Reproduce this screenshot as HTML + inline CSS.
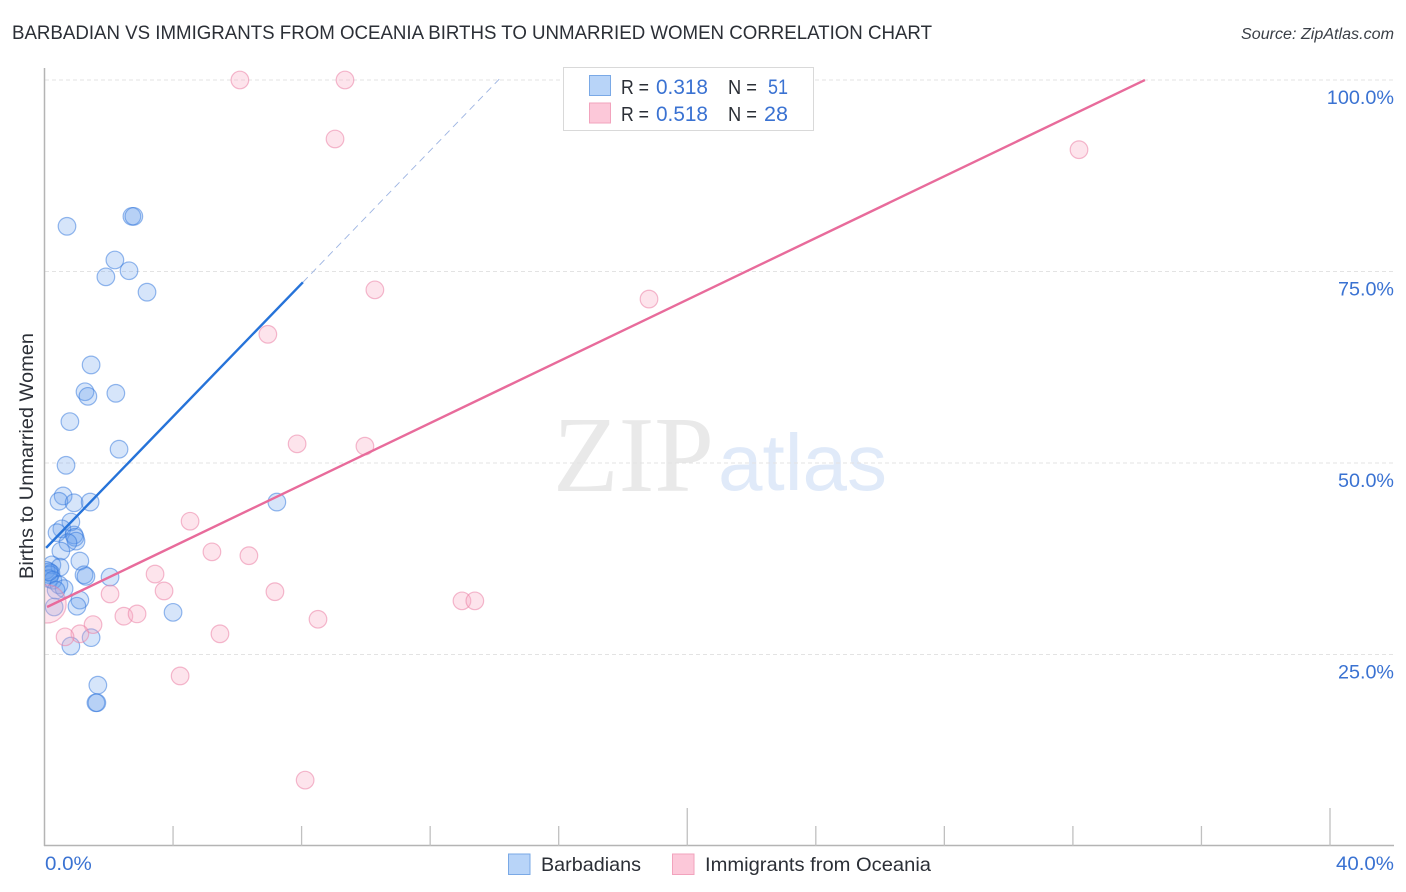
<!DOCTYPE html>
<html lang="en">
<head>
<meta charset="utf-8">
<title>Barbadian vs Immigrants from Oceania Births to Unmarried Women Correlation Chart</title>
<style>
html,body{margin:0;padding:0;background:#fff;width:1406px;height:892px;overflow:hidden}
svg{display:block;font-family:"Liberation Sans",sans-serif}
</style>
</head>
<body>
<svg id="chart" width="1406" height="892" viewBox="0 0 1406 892">
  <defs>
    <clipPath id="plot-clip"><rect x="45" y="60" width="1349" height="786"/></clipPath>
  </defs>
  <text x="12" y="39" font-size="19.4" fill="#2b2f36" textLength="920" lengthAdjust="spacingAndGlyphs">BARBADIAN VS IMMIGRANTS FROM OCEANIA BIRTHS TO UNMARRIED WOMEN CORRELATION CHART</text>
  <text x="1241" y="39" font-size="15.5" font-style="italic" fill="#3a3f47" textLength="153" lengthAdjust="spacingAndGlyphs">Source: ZipAtlas.com</text>
  <g>
    <text x="553" y="491" font-family="'Liberation Serif',serif" font-size="108" fill="#e9e9e9" textLength="161" lengthAdjust="spacingAndGlyphs">ZIP</text>
    <text x="718" y="490" font-size="80" fill="#e0eaf9" textLength="169" lengthAdjust="spacingAndGlyphs">atlas</text>
  </g>
  <g id="grid"></g>
  <g id="axes"></g>
  <g id="marks-blue" clip-path="url(#plot-clip)"></g>
  <g id="marks-pink" clip-path="url(#plot-clip)"></g>
  <g id="fit-lines" clip-path="url(#plot-clip)"></g>
  <text x="33" y="456" font-size="19" fill="#2b2f36" text-anchor="middle" transform="rotate(-90 33 456)" textLength="246" lengthAdjust="spacingAndGlyphs">Births to Unmarried Women</text>

  <g>
    <rect x="563.5" y="67.5" width="250" height="63" fill="#fff" stroke="#d9d9d9"/>
    <rect x="589.5" y="75.5" width="21" height="20" fill="#b8d4f8" stroke="#7aa9e6"/>
    <rect x="589.5" y="103" width="21" height="20" fill="#fcc8d9" stroke="#f2a3bd"/>
    <g font-size="20" fill="#2b2f36">
      <text x="621" y="94" textLength="28" lengthAdjust="spacingAndGlyphs">R =</text>
      <text x="728" y="94" textLength="29" lengthAdjust="spacingAndGlyphs">N =</text>
      <text x="621" y="121" textLength="28" lengthAdjust="spacingAndGlyphs">R =</text>
      <text x="728" y="121" textLength="29" lengthAdjust="spacingAndGlyphs">N =</text>
    </g>
    <g font-size="21" fill="#3a72d2">
      <text x="656" y="94" textLength="52" lengthAdjust="spacingAndGlyphs">0.318</text>
      <text x="768" y="94" textLength="20" lengthAdjust="spacingAndGlyphs">51</text>
      <text x="656" y="121" textLength="52" lengthAdjust="spacingAndGlyphs">0.518</text>
      <text x="764" y="121" textLength="24" lengthAdjust="spacingAndGlyphs">28</text>
    </g>
  </g>

  <g>
    <g>
      <rect x="508.5" y="854" width="21.5" height="20.5" fill="#b8d4f8" stroke="#7aa9e6"/>
      <text x="541" y="871" font-size="19.5" fill="#2b2f36" textLength="100" lengthAdjust="spacingAndGlyphs">Barbadians</text>
    </g>
    <g>
      <rect x="672.5" y="854" width="21.5" height="20.5" fill="#fcc8d9" stroke="#f2a3bd"/>
      <text x="705" y="871" font-size="19.5" fill="#2b2f36" textLength="226" lengthAdjust="spacingAndGlyphs">Immigrants from Oceania</text>
    </g>
  </g>
</svg>
<script>
// Categories and tick labels
const yTicks = [25, 50, 75, 100];
const yTickLabels = ["25.0%", "50.0%", "75.0%", "100.0%"];
const xTicks = [0, 4, 8, 12, 16, 20, 24, 28, 32, 36, 40];
const xMajorTicks = [20, 40];
const xEndTicks = [0, 40];
const xEndLabels = ["0.0%", "40.0%"];

// Barbadians: x value (%) and births to unmarried women (y, %)
const blueX = [0.70,2.72,2.78,2.19,2.63,1.91,3.19,1.45,1.26,1.35,2.22,0.79,2.32,0.67,0.58,0.45,0.92,1.42,7.23,0.82,0.54,0.39,0.92,0.95,0.98,0.73,0.51,1.10,0.23,0.48,0.05,0.20,0.17,1.23,1.29,2.04,0.14,0.26,0.45,0.61,0.36,1.10,1.01,0.30,4.00,1.45,0.82,1.66,1.60,1.63,0.14];
const blueY = [80.9,82.2,82.2,76.5,75.1,74.3,72.3,62.8,59.3,58.7,59.1,55.4,51.8,49.7,45.7,45.0,44.8,44.9,44.9,42.3,41.4,40.9,40.6,40.3,39.8,39.6,38.5,37.2,36.7,36.4,36.0,35.6,35.4,35.4,35.2,35.1,34.9,34.7,34.1,33.6,33.4,32.1,31.3,31.2,30.5,27.2,26.1,21.0,18.7,18.7,35.8];

// Immigrants from Oceania
const pinkX = [6.08,9.35,9.04,32.19,10.28,18.81,6.95,7.86,9.97,4.53,5.21,6.36,3.44,3.72,7.17,2.04,12.99,13.39,2.47,2.88,8.51,1.51,1.10,5.46,0.64,4.22,8.11,0.08];
const pinkY = [100,100,92.3,90.9,72.6,71.4,66.8,52.5,52.2,42.4,38.4,37.9,35.5,33.3,33.2,32.9,32.0,32.0,30.0,30.3,29.6,28.9,27.7,27.7,27.3,22.2,8.6,31.6];
const pinkWeight = [1,1,1,1,1,1,1,1,1,1,1,1,1,1,1,1,1,1,1,1,1,1,1,1,1,1,1,4.7];

// Trend lines: slope, intercept, x-range of the solid segment, x-end of extrapolation
const blueFit = [4.34, 38.7];
const blueSolidRange = [0.05, 8.04];
const blueDashEnd = 14.15;
const pinkFit = [2.014, 31.04];
const pinkSolidRange = [0.08, 34.24];

const NS = "http://www.w3.org/2000/svg";
const xPos = v => 44.5 + v * (1330 - 44.5) / 40;
const yPos = v => 846 - v * (846 - 80) / 100;
const blueTrend = x => blueFit[0] * x + blueFit[1];
const pinkTrend = x => pinkFit[0] * x + pinkFit[1];
const percentLabelWidth = s => s.length * 11.2;

function mk(parent, tag, attrs) {
  const el = document.createElementNS(NS, tag);
  for (const k in attrs) el.setAttribute(k, attrs[k]);
  parent.appendChild(el);
  return el;
}

const grid = document.getElementById("grid");
const axes = document.getElementById("axes");
const marksBlue = document.getElementById("marks-blue");
const marksPink = document.getElementById("marks-pink");
const fits = document.getElementById("fit-lines");

yTicks.forEach((t, i) => {
  const g = mk(grid, "line", {x1: 45, x2: 1394, y1: yPos(t), y2: yPos(t), stroke: "#e3e3e3", "stroke-width": 1, "stroke-dasharray": "4 3"});
  
  
  const w = percentLabelWidth(yTickLabels[i]);
  const lab = mk(axes, "text", {x: 1394 - w, y: yPos(t) + 24, "font-size": 19.5, fill: "#3a72d2", textLength: w, lengthAdjust: "spacingAndGlyphs"});
  lab.textContent = yTickLabels[i];
  
  
});

const yAxis = mk(axes, "line", {x1: 44.5, x2: 44.5, y1: 68, y2: 846, stroke: "#b4b4b4", "stroke-width": 1.5});


const xAxis = mk(axes, "line", {x1: 44, x2: 1394, y1: 845.5, y2: 845.5, stroke: "#b4b4b4", "stroke-width": 1.5});



xTicks.forEach(t => {
  if (t === 0) return;
  const top = xMajorTicks.includes(t) ? 808 : 826;
  const tk = mk(axes, "line", {x1: xPos(t), x2: xPos(t), y1: top, y2: 846, stroke: "#c0c0c0", "stroke-width": 1.3});
  
  
});
xEndTicks.forEach((t, i) => {
  const w = percentLabelWidth(xEndLabels[i]) + 2;
  const x = i === 0 ? xPos(t) + 0.5 : 1394 - w;
  const lab = mk(axes, "text", {x: x, y: 870, "font-size": 19.5, fill: "#3a72d2", textLength: w, lengthAdjust: "spacingAndGlyphs"});
  lab.textContent = xEndLabels[i];
  
  
});

blueX.forEach((x, i) => {
  const c = mk(marksBlue, "circle", {cx: xPos(x), cy: yPos(blueY[i]), r: 8.8, fill: "rgba(95,155,235,0.26)", stroke: "rgba(45,115,220,0.5)", "stroke-width": 1.2});
  
  
});
pinkX.forEach((x, i) => {
  const c = mk(marksPink, "circle", {cx: xPos(x), cy: yPos(pinkY[i]), r: 8.8 * Math.sqrt(pinkWeight[i]), fill: "rgba(250,170,195,0.32)", stroke: "rgba(235,130,165,0.55)", "stroke-width": 1.2});
  
  
});

const dash = mk(fits, "line", {x1: xPos(blueSolidRange[1]), y1: yPos(blueTrend(blueSolidRange[1])), x2: xPos(blueDashEnd), y2: yPos(blueTrend(blueDashEnd)), stroke: "#9db4e2", "stroke-width": 0.9, "stroke-dasharray": "7 5"});


const blueLine = mk(fits, "line", {x1: xPos(blueSolidRange[0]), y1: yPos(blueTrend(blueSolidRange[0])), x2: xPos(blueSolidRange[1]), y2: yPos(blueTrend(blueSolidRange[1])), stroke: "#2673d9", "stroke-width": 2.4});


const pinkLine = mk(fits, "line", {x1: xPos(pinkSolidRange[0]), y1: yPos(pinkTrend(pinkSolidRange[0])), x2: xPos(pinkSolidRange[1]), y2: yPos(pinkTrend(pinkSolidRange[1])), stroke: "#e86b9b", "stroke-width": 2.4});


</script>
</body>
</html>
